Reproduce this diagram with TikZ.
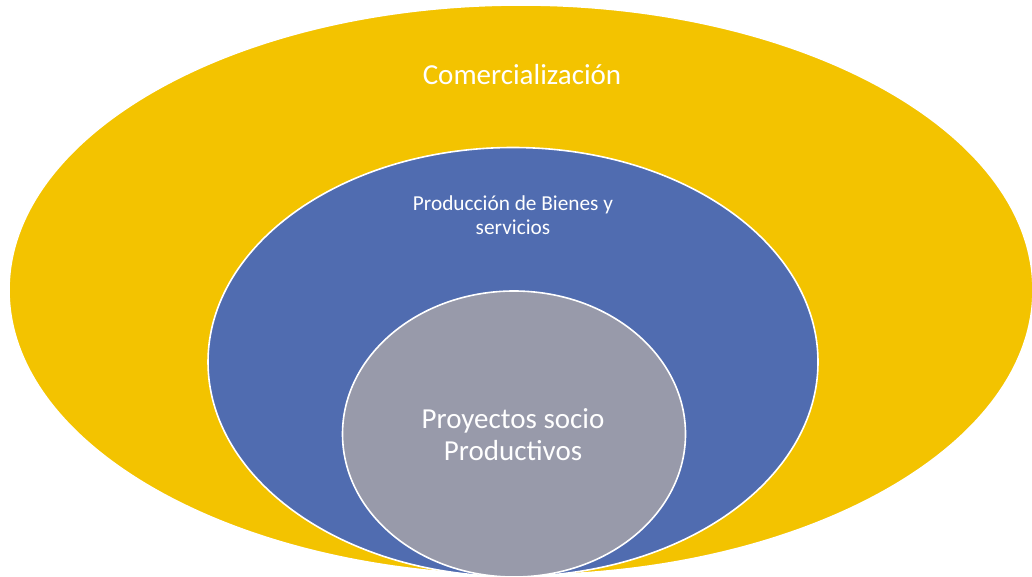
\documentclass[tikz,border=0pt]{standalone}
\usepackage{fontspec}
\setmainfont{Carlito}
\usetikzlibrary{shapes.geometric}
\definecolor{gold}{HTML}{F3C300}
\definecolor{steel}{HTML}{506CB0}
\definecolor{slate}{HTML}{989AAA}
\begin{document}
\begin{tikzpicture}
      [x=1pt,y=-1pt,
       ring/.style={ellipse,draw=white,line width=1.6pt,inner sep=0pt},
       lbl/.style={text=white,align=center}]
      \useasboundingbox (0,0) rectangle (1032,577);

      \node [ring,fill=gold,minimum width=1024pt,minimum height=570pt] (com) at (521,290) {};
      \node [ring,fill=steel,minimum width=610pt,minimum height=429pt] (prod) at (513,362) {};
      \node [ring,fill=slate,minimum width=343pt,minimum height=286pt] (proy) at (514,434) {};

      \node [lbl,font=\fontsize{29}{33}\selectfont] (tcom) at (522,75) {Comercialización};
      \node [lbl,font=\fontsize{21.3}{24}\selectfont] (tprod) at (513,215) {Producción de Bienes y\\servicios};
      \node [lbl,font=\fontsize{29}{32}\selectfont] (tproy) at (513,435) {Proyectos socio\\Productivos};
    \end{tikzpicture}
\end{document}
